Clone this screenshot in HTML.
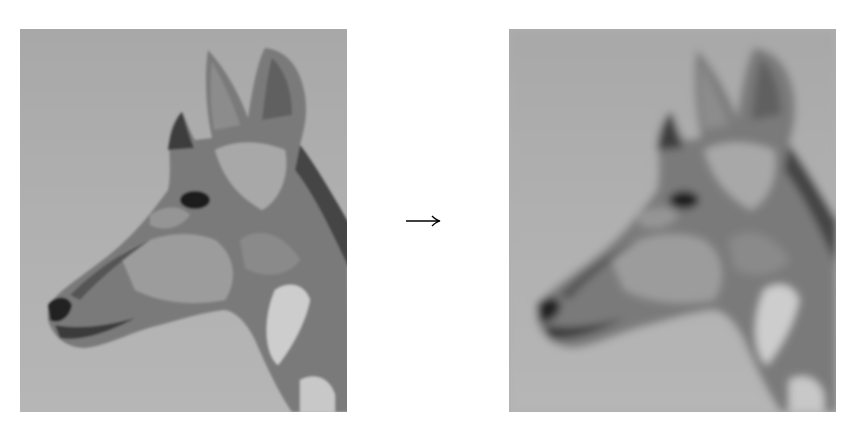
<!DOCTYPE html>
<html><head><meta charset="utf-8"><style>
html,body{margin:0;padding:0;background:#fff;}
svg{display:block;}
</style></head><body>
<svg width="859" height="439" viewBox="0 0 859 439">
<defs>
<filter id="blur" x="-10%" y="-10%" width="120%" height="120%"><feGaussianBlur stdDeviation="4"/></filter>
<filter id="soft" x="-5%" y="-5%" width="110%" height="110%"><feGaussianBlur stdDeviation="1.2"/></filter>
<clipPath id="clipL"><rect x="20" y="29" width="327" height="383"/></clipPath>
<clipPath id="clipR"><rect x="0" y="0" width="327" height="383"/></clipPath>
<linearGradient id="bg" x1="0" y1="0" x2="0" y2="1">
<stop offset="0" stop-color="#a8a8a8"/><stop offset="0.5" stop-color="#b0b0b0"/><stop offset="1" stop-color="#b6b6b6"/>
</linearGradient>
<g id="photo">
<rect x="0" y="0" width="327" height="383" fill="url(#bg)"/>
<g transform="translate(-20,-29)">
<g clip-path="url(#clipL)">
<g filter="url(#soft)">
<path d="M48,310 C52,295 70,285 100,262 C130,240 150,215 168,190 C172,170 168,150 170,135 C172,125 178,115 182,112 C186,120 190,132 195,140 L212,138 C206,110 204,75 208,50 C222,65 238,90 248,118 C252,90 258,60 265,48 C285,50 300,65 305,95 C308,115 304,130 300,145 C312,160 330,190 347,225 L350,412 L292,412 C280,395 268,370 255,340 C245,320 235,312 225,310 C205,312 185,318 160,325 C130,332 110,345 85,348 C65,348 52,335 48,320 Z" fill="#7a7a7a"/>
<path d="M214,130 C210,105 210,80 212,62 C222,80 232,100 240,125 Z" fill="#8c8c8c"/>
<path d="M262,120 C265,95 268,70 272,58 C285,70 292,90 292,115 Z" fill="#606060"/>
<path d="M300,145 C312,160 330,190 350,225 L350,270 C335,240 318,200 295,170 Z" fill="#454545"/>
<path d="M215,150 C235,140 260,140 285,150 C290,175 280,200 262,210 C245,200 225,185 215,150 Z" fill="#a8a8a8"/>
<path d="M120,255 C150,235 185,228 215,240 C235,255 238,280 225,300 C200,305 165,305 135,290 Z" fill="#9c9c9c"/>
<path d="M150,215 C165,205 180,205 190,215 C180,228 165,232 150,225 Z" fill="#959595"/>
<path d="M275,290 C290,280 305,285 310,300 C305,325 290,350 278,365 C265,355 262,320 275,290 Z" fill="#cdcdcd"/>
<path d="M300,380 C315,372 330,378 335,395 L335,412 L300,412 Z" fill="#c8c8c8"/>
<path d="M240,240 C260,225 285,235 300,260 C290,275 265,280 245,268 Z" fill="#8a8a8a"/>
<ellipse cx="195" cy="200" rx="15" ry="9" fill="#1e1e1e"/>
<path d="M48,305 C55,295 68,295 72,305 C70,318 58,325 50,320 Z" fill="#242424"/>
<path d="M55,325 C80,330 110,325 135,318 C110,332 80,342 60,338 Z" fill="#3a3a3a"/>
<path d="M70,295 C95,270 125,250 150,240 C125,258 100,278 80,300 Z" fill="#555"/>
<path d="M168,150 C170,132 176,118 182,112 C186,125 190,138 194,148 Z" fill="#3c3c3c"/>
</g>
</g>
</g>
</g>
</defs>
<g transform="translate(20,29)"><use href="#photo"/></g>
<g transform="translate(509,29)"><g clip-path="url(#clipR)"><rect x="0" y="0" width="327" height="383" fill="#b0b0b0"/><g filter="url(#blur)"><use href="#photo"/></g></g></g>
<g>
<line x1="406" y1="221" x2="439" y2="221" stroke="#000" stroke-width="1.6"/>
<path d="M432,216 Q436,220 440,221 Q436,222 432,226" fill="none" stroke="#000" stroke-width="1.4"/>
</g>
</svg>
</body></html>
